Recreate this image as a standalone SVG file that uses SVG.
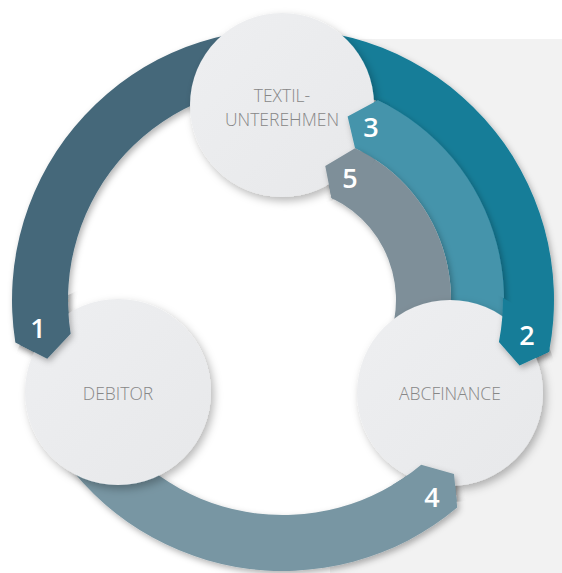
<svg xmlns="http://www.w3.org/2000/svg" width="562" height="573" viewBox="0 0 562 573">
  <defs>
    <filter id="sh" x="-20%" y="-20%" width="140%" height="140%">
      <feDropShadow dx="2" dy="3" stdDeviation="3" flood-color="#000" flood-opacity="0.3"/>
    </filter>
    <filter id="shc" x="-20%" y="-20%" width="140%" height="140%">
      <feDropShadow dx="3" dy="4" stdDeviation="4" flood-color="#000" flood-opacity="0.28"/>
    </filter>
    <linearGradient id="cg" x1="0" y1="0" x2="1" y2="1">
      <stop offset="0" stop-color="#eeeff1"/>
      <stop offset="1" stop-color="#e7e8ea"/>
    </linearGradient>
    <clipPath id="clipT"><circle cx="282" cy="105" r="108"/></clipPath>
    <clipPath id="clipD"><circle cx="118" cy="392" r="109"/></clipPath>
    <clipPath id="clipA"><circle cx="450" cy="393" r="109"/></clipPath>
    <path id="b1" d="M306.62,30.03 A271,271 0 0 0 15.34,342.39 L47.22,358.79 L70.65,333.63 A215,215 0 0 1 301.74,85.82 Z"/>
    <path id="b2" d="M259.38,30.03 A271,271 0 0 1 549.02,351.71 L519.57,365.61 L498.96,341.98 A220,220 0 0 0 263.82,80.84 Z"/>
    <path id="b3" d="M464.03,426.76 A221,221 0 0 0 377.80,100.36 L347.61,116.54 L355.06,148.24 A168,168 0 0 1 420.62,396.36 Z"/>
    <path id="b5" d="M420.62,396.36 A168,168 0 0 0 355.06,148.24 L325.25,166.00 L331.47,197.92 A113,113 0 0 1 375.56,364.81 Z"/>
    <path id="b4" d="M48.31,435.5 A271,271 0 0 0 457.20,507.60 L454.02,474.03 L421.20,464.70 A215,215 0 0 1 96.80,407.5 Z"/>
  </defs>
  <style>
    .c1{fill:#45687a}
    .c2{fill:#137d98}
    .c3{fill:#4494ab}
    .c4{fill:#7896a3}
    .c5{fill:#7e8f99}
    .node circle{fill:url(#cg)}
    .lbl{font-family:"Open Sans","Liberation Sans",sans-serif;font-weight:300;font-size:17.5px;fill:#878787;text-anchor:middle}
    .num{font-family:"Open Sans","Liberation Sans",sans-serif;font-weight:600;font-size:27px;fill:#ffffff;text-anchor:middle}
  </style>
  <rect x="0" y="0" width="562" height="573" fill="#ffffff"/>
  <rect x="330" y="39" width="232" height="534" fill="#f2f2f2"/>
  <circle cx="283" cy="300" r="215" fill="#ffffff"/>

  <g id="connectors">
    <use href="#b1" class="c1" filter="url(#sh)"/>
    <use href="#b4" class="c4" filter="url(#sh)"/>
    <use href="#b2" class="c2" filter="url(#sh)"/>
    <use href="#b3" class="c3" filter="url(#sh)"/>
    <use href="#b5" class="c5" filter="url(#sh)"/>
  </g>

  <g id="node-textil" class="node">
    <circle cx="282" cy="105" r="92" filter="url(#shc)"/>
    <text class="lbl" x="282" y="102">TEXTIL-</text>
    <text class="lbl" x="282" y="126">UNTEREHMEN</text>
  </g>
  <g id="node-debitor" class="node">
    <circle cx="118" cy="392" r="93" filter="url(#shc)"/>
    <text class="lbl" x="118" y="400">DEBITOR</text>
  </g>
  <g id="node-abcfinance" class="node">
    <circle cx="450" cy="393" r="93" filter="url(#shc)"/>
    <text class="lbl" x="450" y="400">ABCFINANCE</text>
  </g>

  <g id="connector-tips">
    <g clip-path="url(#clipD)"><use href="#b1" class="c1" filter="url(#sh)"/></g>
    <g clip-path="url(#clipA)"><use href="#b2" class="c2" filter="url(#sh)"/></g>
    <g clip-path="url(#clipA)"><use href="#b4" class="c4" filter="url(#sh)"/></g>
    <g clip-path="url(#clipT)"><use href="#b3" class="c3" filter="url(#sh)"/></g>
    <g clip-path="url(#clipT)"><use href="#b5" class="c5" filter="url(#sh)"/></g>
  </g>

  <g id="numbers">
    <text class="num" x="38" y="338">1</text>
    <text class="num" x="527" y="345">2</text>
    <text class="num" x="371" y="137">3</text>
    <text class="num" x="432" y="507">4</text>
    <text class="num" x="350" y="188">5</text>
  </g>
</svg>
